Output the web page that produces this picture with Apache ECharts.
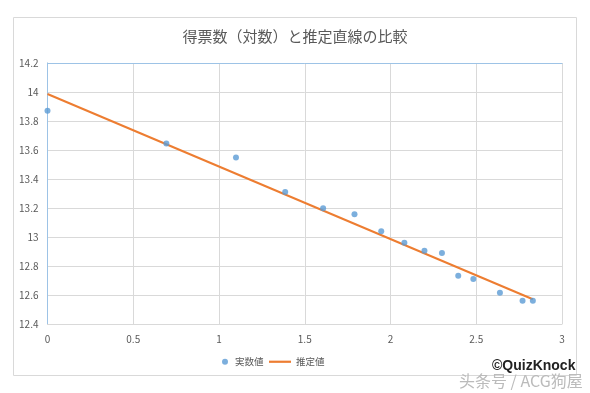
<!DOCTYPE html>
<html><head><meta charset="utf-8">
<script src="https://cdn.jsdelivr.net/npm/echarts@6/dist/echarts.min.js"></script>
<style>html,body{margin:0;padding:0;background:#fff}#c{width:590px;height:393px}</style>
</head><body><div id="c"></div>
<script>
const titleText = '得票数（対数）と推定直線の比較';
const seriesNames = ['実数値', '推定値'];
const actualX = [0, 0.693, 1.099, 1.386, 1.607, 1.79, 1.946, 2.081, 2.198, 2.3, 2.395, 2.483, 2.638, 2.77, 2.83];
const actualY = [13.871, 13.644, 13.549, 13.31, 13.198, 13.157, 13.039, 12.961, 12.906, 12.89, 12.733, 12.71, 12.616, 12.56, 12.56];
const fitX = [0, 2.83];
const fitY = [13.986, 12.571];
const xMin = 0, xMax = 3, xStep = 0.5;
const yMin = 12.4, yMax = 14.2, yStep = 0.2;

const chart = echarts.init(document.getElementById('c'));
const labelStyle = { color: '#595959', fontSize: 10, fontFamily: 'Noto Sans CJK JP' };
const legendText = { color: '#595959', fontSize: 9.5, fontFamily: 'Noto Sans CJK JP' };
chart.setOption({
  animation: false,
  title: { text: titleText, left: 'center', top: 24,
    textStyle: { color: '#595959', fontSize: 15, fontWeight: 'normal', fontFamily: 'Noto Sans CJK JP' } },
  legend: [
    { left: 217, top: 352, itemWidth: 10, itemHeight: 6, textStyle: legendText,
      data: [{ name: seriesNames[0], icon: 'circle' }] },
    { left: 264, top: 352, itemWidth: 22, itemHeight: 6, textStyle: legendText,
      data: [{ name: seriesNames[1], icon: 'path://M0 0H20V2H0Z' }] }
  ],
  grid: { left: 47.5, right: 28, top: 63, bottom: 69, containLabel: false },
  xAxis: [
    { type: 'value', min: xMin, max: xMax, interval: xStep,
      axisLine: { show: true, lineStyle: { color: '#d9d9d9' } }, axisTick: { show: false },
      splitLine: { lineStyle: { color: '#d9d9d9' } }, axisLabel: Object.assign({ margin: 10 }, labelStyle) },
    { type: 'value', position: 'top', min: xMin, max: xMax, interval: xStep,
      axisLine: { show: true, lineStyle: { color: '#9dc3e6' } }, axisTick: { show: false },
      splitLine: { show: false }, axisLabel: { show: false } }
  ],
  yAxis: [
    { type: 'value', min: yMin, max: yMax, interval: yStep,
      axisLine: { show: true, lineStyle: { color: '#d9d9d9' } }, axisTick: { show: false },
      splitLine: { lineStyle: { color: '#d9d9d9' } },
      axisLabel: Object.assign({ margin: 9, formatter: v => String(+v.toFixed(1)) }, labelStyle) },
    { type: 'value', position: 'right', min: yMin, max: yMax, interval: yStep,
      axisLine: { show: true, lineStyle: { color: '#9dc3e6' } }, axisTick: { show: false },
      splitLine: { show: false }, axisLabel: { show: false } }
  ],
  series: [
    { name: seriesNames[0], type: 'scatter', symbolSize: 6, itemStyle: { color: '#5b9bd5' },
      data: actualX.map((x, i) => [x, actualY[i]]), z: 3 },
    { name: seriesNames[1], type: 'line', showSymbol: false, symbol: 'none',
      lineStyle: { color: '#ed7d31', width: 2 }, itemStyle: { color: '#ed7d31' },
      data: fitX.map((x, i) => [x, fitY[i]]), z: 2 }
  ],
  graphic: [
    { type: 'rect', shape: { x: 13.5, y: 17.5, width: 563, height: 358 }, silent: true, z: -1,
      style: { fill: 'none', stroke: '#d9d9d9', lineWidth: 1 } },
    { type: 'text', left: 492, top: 359, z: 10,
      style: { text: '©QuizKnock', fill: '#222', font: 'bold 14px "Liberation Sans", Arial, sans-serif' } },
    { type: 'text', left: 459, top: 373, z: 10,
      style: { text: '头条号 / ACG狗屋', fill: '#bbbbbb', font: '16px "Noto Sans CJK SC", sans-serif' } }
  ]
});
</script></body></html>
